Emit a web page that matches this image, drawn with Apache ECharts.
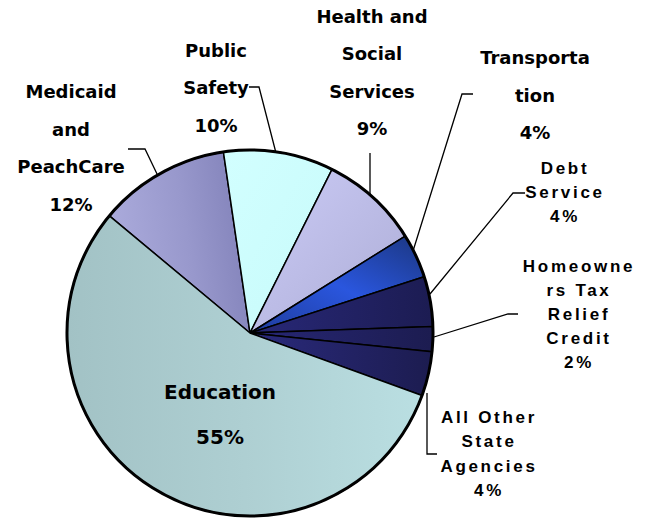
<!DOCTYPE html>
<html>
<head>
<meta charset="utf-8">
<script src="https://cdn.jsdelivr.net/npm/echarts@6/dist/echarts.min.js"></script>
<style>
  html, body { margin: 0; padding: 0; background: #fff; }
  #main { width: 651px; height: 519px; }
</style>
</head>
<body>
<div id="main"></div>
<script>
// ---- data ----
const categories = [
  'Medicaid and PeachCare', 'Public Safety', 'Health and Social Services',
  'Transportation', 'Debt Service', 'Homeowners Tax Relief Credit',
  'All Other State Agencies', 'Education'
];
const shares = [11.6, 9.7, 8.7, 3.9, 4.4, 2.2, 3.9, 55.4];
const labelText = [
  'Medicaid\nand\nPeachCare', 'Public\nSafety', 'Health and\nSocial\nServices',
  'Transporta\ntion', 'Debt\nService', 'Homeowne\nrs Tax\nRelief\nCredit',
  'All Other\nState\nAgencies', 'Education'
];

// ---- styles / layout ----
const BIG = { fontFamily: 'DejaVu Sans', fontWeight: 'bold', fontSize: 18, lineHeight: 37.5, color: '#000' };
const SMALL = { fontFamily: 'Liberation Sans', fontWeight: 'bold', fontSize: 17, lineHeight: 24.2, color: '#000' };
const EDU = { fontFamily: 'DejaVu Sans', fontWeight: 'bold', fontSize: 20, lineHeight: 45, color: '#000' };
const labelStyles = [BIG, BIG, BIG, BIG, SMALL, SMALL, SMALL, EDU];

const lin = (x, y, x2, y2, stops) => ({
  type: 'linear', x, y, x2, y2,
  colorStops: stops.map((c, i) => ({ offset: i / (stops.length - 1), color: c }))
});
const fills = [
  lin(0, 0.3, 1, 0.1, ['#aaaadb', '#9898cc', '#7f7fb7']),
  lin(0, 0, 1, 1, ['#d2ffff', '#c6fafa']),
  lin(0, 0, 1, 1, ['#cbcbf6', '#bcbce6', '#adadd6']),
  lin(1, 0, 0, 1, ['#1b3680', '#2a56de', '#1f3c9c']),
  lin(0, 0, 1, 0, ['#282878', '#1c1c52']),
  lin(0, 0, 1, 0, ['#272776', '#1c1c50']),
  lin(0, 0, 1, 0, ['#2a2a7c', '#1c1c50']),
  lin(0, 0, 1, 0, ['#a2c2c5', '#aecfd2', '#badfe2'])
];

// label block centres and leader lines (pixels)
const labelPlacement = [
  { x: 71,  y: 148,   line: [[158, 176], [145, 149], [128, 149]] },
  { x: 216, y: 87.5,  line: [[276, 153], [259, 87], [249, 87]] },
  { x: 372, y: 72.5,  line: [[370, 196], [370, 153], [370, 153]] },
  { x: 535, y: 95,    line: [[413, 251], [462, 94], [473, 94]] },
  { x: 565, y: 192.5, line: [[430, 294], [513, 193], [525, 193]] },
  { x: 579, y: 314.5, line: [[434, 337], [508, 314], [518, 314]] },
  { x: 489, y: 454,   line: [[427, 393], [427, 454], [437, 454]] },
  { x: 220, y: 414.5, line: null }
];

const pieData = categories.map((name, i) => ({
  name,
  value: shares[i],
  itemStyle: { color: fills[i] },
  label: Object.assign({}, labelStyles[i]),
  labelLine: { show: !!labelPlacement[i].line }
}));

const chart = echarts.init(document.getElementById('main'), null, { renderer: 'svg' });
chart.setOption({
  animation: false,
  backgroundColor: '#fff',
  series: [
    {
      type: 'pie',
      center: [250, 333],
      radius: 183,
      startAngle: 140.2,
      clockwise: true,
      avoidLabelOverlap: false,
      minShowLabelAngle: 0,
      emphasis: { disabled: true },
      itemStyle: { borderColor: '#000', borderWidth: 1.5 },
      label: {
        show: true,
        position: 'outside',
        align: 'center',
        formatter: p => labelText[p.dataIndex] + '\n' + Math.round(p.value) + '%'
      },
      labelLine: { show: true, lineStyle: { color: '#000', width: 1.3 } },
      labelLayout: p => {
        const L = labelPlacement[p.dataIndex];
        const o = { x: L.x, y: L.y, align: 'center', verticalAlign: 'middle' };
        if (L.line) o.labelLinePoints = L.line;
        return o;
      },
      data: pieData
    },
    {
      type: 'pie',
      center: [250, 333],
      radius: 183,
      silent: true,
      z: 5,
      label: { show: false },
      labelLine: { show: false },
      emphasis: { disabled: true },
      itemStyle: { color: 'rgba(0,0,0,0)', borderColor: '#000', borderWidth: 3 },
      data: [{ value: 1, name: 'rim' }]
    }
  ]
});

function spaceSmallLabels() {
  document.querySelectorAll('#main svg text').forEach(t => {
    const s = (t.getAttribute('style') || '') + (t.getAttribute('font-family') || '');
    if (s.indexOf('Liberation') >= 0) {
      t.style.letterSpacing = '2.7px';
    }
  });
}
spaceSmallLabels();
chart.on('finished', spaceSmallLabels);
setTimeout(spaceSmallLabels, 50);
</script>
</body>
</html>
